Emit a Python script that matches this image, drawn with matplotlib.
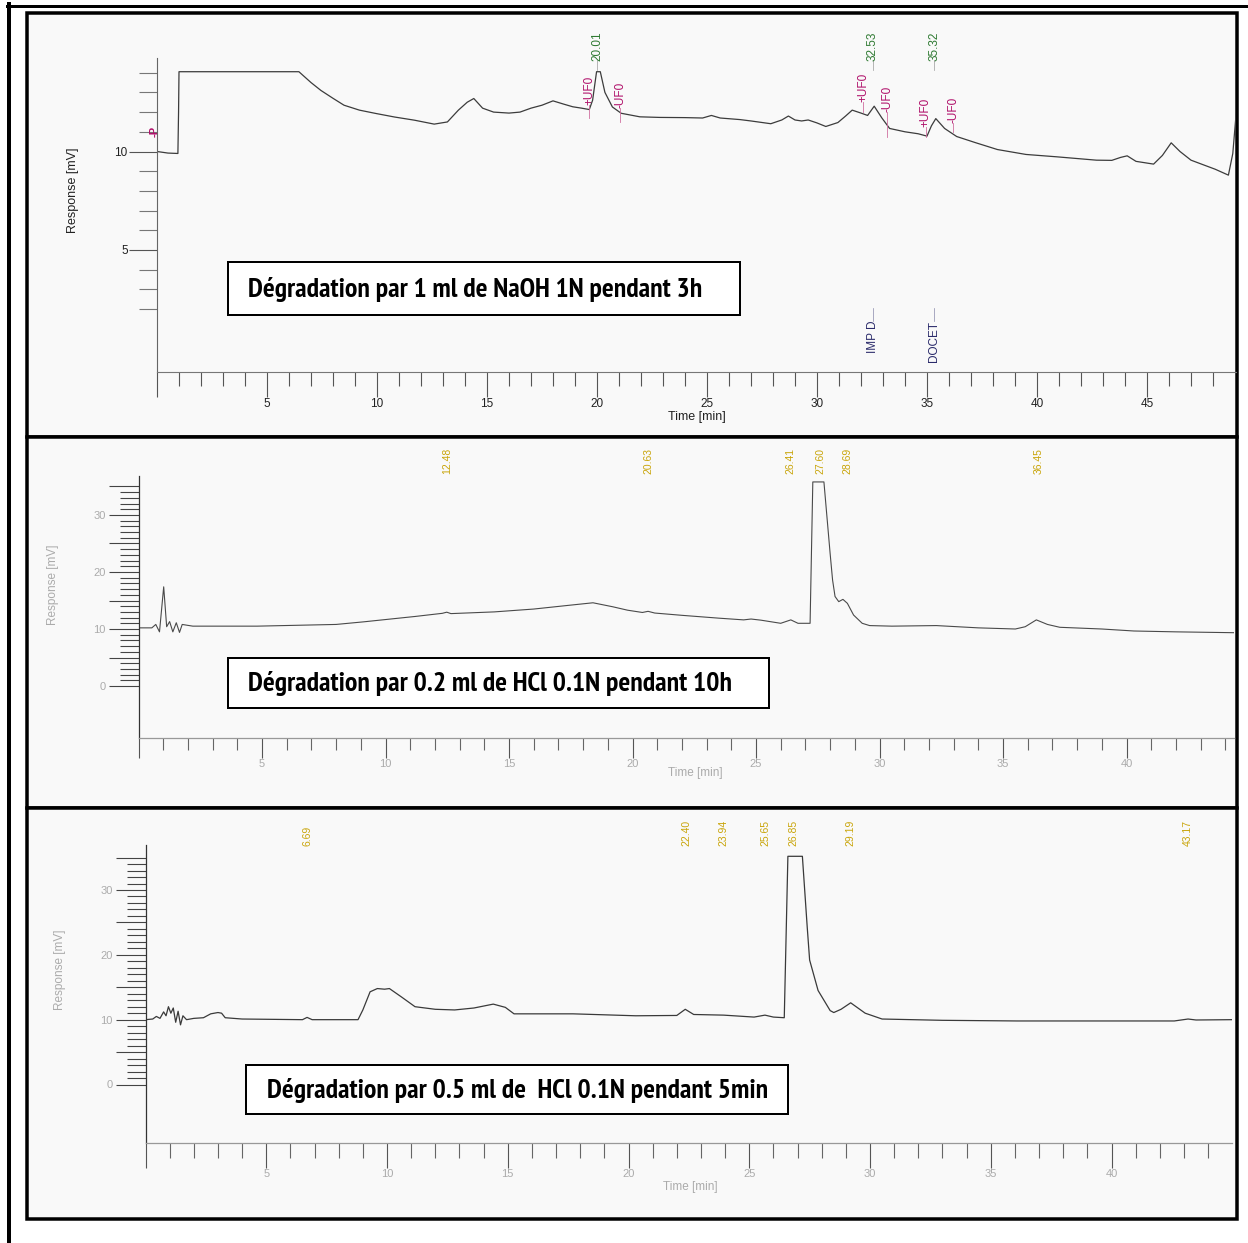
import matplotlib
matplotlib.use('Agg')
import matplotlib.pyplot as plt
from matplotlib.patches import Rectangle
from matplotlib.lines import Line2D
from matplotlib.ticker import FixedLocator, FuncFormatter
from matplotlib import font_manager
from matplotlib.font_manager import FontProperties

W, H = 1248, 1243

# --- chromatogram 1 : NaOH 1N, 3h  (time [min], response [mV]) ---
t_naoh = [0.0, 0.5, 0.95, 0.98, 1.0, 6.45, 7.0, 7.45, 8.0, 8.5,
          9.2, 9.95, 10.8, 11.7, 12.6, 13.2, 13.7, 14.1, 14.4, 14.8,
          15.3, 16.0, 16.5, 17.0, 17.5, 18.0, 18.5, 18.9, 19.3, 19.65,
          19.8, 19.98, 20.15, 20.36, 20.7, 21.1, 21.95, 22.85, 24.0, 24.8,
          25.2, 25.6, 26.5, 27.0, 27.9, 28.4, 28.7, 29.0, 29.3, 29.6,
          30.0, 30.4, 30.95, 31.3, 31.6, 32.0, 32.3, 32.6, 32.95, 33.3,
          34.0, 34.6, 35.0, 35.2, 35.4, 35.8, 36.35, 37.2, 38.2, 39.5,
          40.9, 42.7, 43.4, 43.8, 44.1, 44.5, 45.3, 45.7, 46.1, 46.5,
          47.0, 47.5, 48.1, 48.7, 48.9, 49.05]
r_naoh = [10.0, 9.92, 9.9, 12.0, 14.05, 14.05, 13.5, 13.1, 12.7, 12.35,
          12.1, 11.93, 11.75, 11.59, 11.39, 11.5, 12.1, 12.5, 12.69, 12.2,
          12.0, 11.95, 12.0, 12.2, 12.35, 12.57, 12.4, 12.27, 12.2, 12.13,
          12.6, 14.05, 14.05, 13.0, 12.26, 11.94, 11.76, 11.73, 11.72, 11.7,
          11.83, 11.7, 11.62, 11.55, 11.41, 11.6, 11.8, 11.6, 11.55, 11.6,
          11.45, 11.27, 11.47, 11.8, 12.1, 11.95, 11.83, 12.3, 11.7, 11.17,
          11.0, 10.9, 10.78, 11.3, 11.67, 11.17, 10.76, 10.45, 10.1, 9.85,
          9.73, 9.56, 9.55, 9.7, 9.78, 9.5, 9.36, 9.8, 10.44, 10.0,
          9.56, 9.35, 9.1, 8.8, 9.9, 11.9]
naoh_peaks = [20.01, 32.53, 35.32]
naoh_uf_times = [19.64, 21.05, 32.1, 33.2, 34.95, 36.2]
naoh_uf_text = ['+UF0', '-UF0', '+UF0', '-UF0', '+UF0', '-UF0']
naoh_names = ['IMP D', 'DOCET']
naoh_name_times = [32.53, 35.32]

# --- chromatogram 2 : HCl 0.1N 0.2 ml, 10h ---
t_hcl10 = [0.0, 0.54, 0.7, 0.85, 1.02, 1.14, 1.26, 1.39, 1.53, 1.66,
           1.77, 1.98, 2.2, 4.8, 8.0, 9.1, 11.2, 12.3, 12.48, 12.65,
           14.4, 16.0, 17.3, 18.4, 19.2, 19.8, 20.4, 20.63, 20.9, 22.0,
           23.5, 24.5, 24.8, 25.2, 26.0, 26.41, 26.7, 27.19, 27.3, 27.75,
           28.0, 28.1, 28.2, 28.35, 28.52, 28.7, 28.95, 29.3, 29.6, 30.5,
           32.3, 34.0, 35.5, 35.9, 36.35, 36.8, 37.3, 39.0, 40.3, 42.0,
           44.35]
r_hcl10 = [10.2, 10.2, 10.8, 9.5, 17.4, 10.4, 11.3, 9.5, 11.1, 9.4,
           10.8, 10.65, 10.5, 10.5, 10.8, 11.25, 12.2, 12.75, 12.95, 12.7,
           13.0, 13.5, 14.1, 14.6, 13.9, 13.3, 12.9, 13.1, 12.8, 12.4,
           11.9, 11.6, 11.75, 11.55, 11.0, 11.6, 11.0, 11.0, 35.8, 35.8,
           23.3, 18.6, 15.7, 14.8, 15.2, 14.5, 12.45, 11.0, 10.6, 10.5,
           10.6, 10.2, 10.0, 10.4, 11.6, 10.8, 10.3, 10.0, 9.65, 9.5,
           9.35]
hcl10_peaks = [12.48, 20.63, 26.41, 27.60, 28.69, 36.45]

# --- chromatogram 3 : HCl 0.1N 0.5 ml, 5min ---
t_hcl5 = [0.0, 0.3, 0.45, 0.6, 0.75, 0.85, 0.95, 1.05, 1.15, 1.25,
          1.35, 1.45, 1.55, 1.7, 2.0, 2.4, 2.7, 3.0, 3.15, 3.3,
          4.0, 6.5, 6.69, 6.9, 8.8, 9.0, 9.3, 9.6, 9.9, 10.1,
          10.6, 11.16, 12.0, 12.8, 13.6, 14.4, 14.9, 15.26, 17.7, 20.3,
          22.0, 22.35, 22.7, 23.94, 25.2, 25.65, 26.0, 26.45, 26.6, 27.2,
          27.4, 27.5, 27.85, 28.35, 28.5, 28.8, 29.2, 29.8, 30.5, 33.0,
          36.1, 42.6, 43.17, 43.5, 45.0]
r_hcl5 = [10.0, 10.1, 10.5, 10.2, 11.2, 10.6, 12.0, 11.0, 11.8, 9.6,
          11.3, 9.2, 10.6, 10.0, 10.2, 10.3, 10.9, 11.1, 11.0, 10.3,
          10.1, 10.0, 10.35, 10.0, 10.0, 11.5, 14.3, 14.8, 14.7, 14.8,
          13.5, 12.0, 11.6, 11.5, 11.8, 12.4, 11.9, 10.9, 10.9, 10.6,
          10.65, 11.6, 10.8, 10.7, 10.4, 10.7, 10.4, 10.3, 35.2, 35.2,
          24.3, 19.2, 14.5, 11.4, 11.1, 11.6, 12.6, 11.0, 10.1, 9.9,
          9.8, 9.8, 10.1, 9.95, 10.0]
hcl5_peaks = [6.69, 22.40, 23.94, 25.65, 26.85, 29.19, 43.17]

titles = ['Dégradation par 1 ml de NaOH 1N pendant 3h',
          'Dégradation par 0.2 ml de HCl 0.1N pendant 10h',
          'Dégradation par 0.5 ml de  HCl 0.1N pendant 5min']

plt.rcParams['font.family'] = ['Liberation Sans', 'DejaVu Sans']

# caption font: a bold narrow/condensed face if one is installed
narrow = None
for f in font_manager.fontManager.ttflist:
    fn = f.fname.lower()
    if ('narrow' in fn or 'condensed' in fn) and 'bold' in fn and 'oblique' not in fn \
            and 'italic' not in fn and 'mono' not in fn and 'serif' not in fn:
        narrow = f.fname
        if 'narrow' in fn:
            break
if narrow:
    box_prop = FontProperties(fname=narrow, size=20)
else:
    box_prop = FontProperties(family='Liberation Sans', weight='bold', size=15.5)

PT = 72 / 100  # pixels -> points

fig = plt.figure(figsize=(W / 100, H / 100), dpi=100)
fig.patch.set_facecolor('white')


def fx(px):
    return px / W


def fy(py):
    return 1 - py / H


# outer frame
fig.add_artist(Line2D([fx(7), fx(1248)], [fy(5.5), fy(5.5)], color='black', lw=3 * PT))
fig.add_artist(Line2D([fx(9), fx(9)], [fy(4), fy(1243)], color='black', lw=4 * PT))

# panel boxes
for top, bot in [(12.5, 437), (437, 808), (808, 1219)]:
    fig.add_artist(Rectangle((fx(26.5), fy(bot)), fx(1236.5) - fx(26.5), fy(top) - fy(bot),
                             transform=fig.transFigure, fc='#f9f9f9', ec='black',
                             lw=3.5 * PT, zorder=0))


def make_axes(left, top, right, bottom, xmax, ylo, yhi):
    ax = fig.add_axes([fx(left), fy(bottom), fx(right) - fx(left), fy(top) - fy(bottom)])
    ax.set_xlim(0, xmax)
    ax.set_ylim(ylo, yhi)
    ax.patch.set_alpha(0)
    ax.set_zorder(1)
    ax.spines['top'].set_visible(False)
    ax.spines['right'].set_visible(False)
    return ax


def afrac(py, top, bottom):
    return (bottom - py) / (bottom - top)


def no_zero(v, p):
    return '' if v == 0 else f'{v:g}'


def tens_only(v, p):
    return f'{v:g}' if v % 10 == 0 else ''


# ---------------- panel 1 ----------------
P1 = (157, 58, 1236, 372)
ax1 = make_axes(*P1, xmax=(1236 - 157) / 22.0,
                ylo=10 - (372 - 151.5) / 19.7, yhi=10 + (151.5 - 58) / 19.7)
ax1.plot(t_naoh, r_naoh, color='#3c3c3c', lw=0.9)
ax1.xaxis.set_major_locator(FixedLocator(range(0, 50, 5)))
ax1.xaxis.set_minor_locator(FixedLocator(range(0, 49)))
ax1.xaxis.set_major_formatter(FuncFormatter(no_zero))
ax1.yaxis.set_major_locator(FixedLocator([5, 10]))
ax1.yaxis.set_minor_locator(FixedLocator(range(2, 15)))
ax1.tick_params(axis='x', which='major', length=25 * PT, width=0.8, color='#555555',
                labelsize=8.5, pad=1, labelcolor='#222222')
ax1.tick_params(axis='x', which='minor', length=14 * PT, width=0.8, color='#555555')
ax1.tick_params(axis='y', which='major', length=28 * PT, width=0.8, color='#555555',
                labelsize=8.5, pad=1, labelcolor='#222222')
ax1.tick_params(axis='y', which='minor', length=18 * PT, width=0.8, color='#777777')
ax1.spines['left'].set_color('#666666')
ax1.spines['bottom'].set_color('#777777')
ax1.spines['left'].set_linewidth(0.8)
ax1.spines['bottom'].set_linewidth(0.8)

xt1 = ax1.get_xaxis_transform()
for t in naoh_peaks:
    ax1.text(t, afrac(61, 58, 372), f'{t:.2f}', transform=xt1, rotation=90, ha='center',
             va='bottom', fontsize=8.5, color='#2f7a32', clip_on=False)
    ax1.plot([t, t], [afrac(60, 58, 372), afrac(70, 58, 372)], transform=xt1,
             color='#999999', lw=0.5, clip_on=False)
uf_bottoms = [105, 108, 102, 112, 127, 123]
uf_ends = [118, 122, 112, 137, 137, 132]
for t, s, b, e in zip(naoh_uf_times, naoh_uf_text, uf_bottoms, uf_ends):
    ax1.text(t, afrac(b, 58, 372), s, transform=xt1, rotation=90, ha='center',
             va='bottom', fontsize=8.5, color='#b0106a', clip_on=False)
    ax1.plot([t, t], [afrac(b, 58, 372), afrac(e, 58, 372)], transform=xt1,
             color='#d070a0', lw=0.6)
for t, s, b in zip(naoh_name_times, naoh_names, [353, 362]):
    ax1.text(t, afrac(b, 58, 372), s, transform=xt1, rotation=90, ha='center',
             va='bottom', fontsize=8.5, color='#2a2a6a', clip_on=False)
    ax1.plot([t, t], [afrac(308, 58, 372), afrac(321, 58, 372)], transform=xt1,
             color='#8888aa', lw=0.5)
fig.text(fx(155), fy(131), '-P', rotation=90, ha='center', va='center', fontsize=8,
         color='#b0106a', fontweight='bold')
fig.text(fx(73), fy(190), 'Response [mV]', rotation=90, ha='center', va='center',
         fontsize=9, color='#222222')
fig.text(fx(697), fy(417), 'Time [min]', ha='center', va='center', fontsize=9,
         color='#222222')

# ---------------- panels 2 and 3 ----------------
gold = '#c9a50a'
grey_txt = '#ababab'


def style_grey_axes(ax, xmax, maj_x, min_x):
    ax.xaxis.set_major_locator(FixedLocator(range(0, int(xmax) + 1, 5)))
    ax.xaxis.set_minor_locator(FixedLocator(range(0, int(xmax) + 1)))
    ax.xaxis.set_major_formatter(FuncFormatter(no_zero))
    ax.yaxis.set_major_locator(FixedLocator(range(0, 36, 5)))
    ax.yaxis.set_minor_locator(FixedLocator(range(0, 36)))
    ax.yaxis.set_major_formatter(FuncFormatter(tens_only))
    ax.tick_params(axis='x', which='major', length=maj_x * PT, width=0.8, color='#555555',
                   labelsize=8, pad=1, labelcolor=grey_txt)
    ax.tick_params(axis='x', which='minor', length=min_x * PT, width=0.8, color='#666666')
    ax.tick_params(axis='y', which='major', length=30 * PT, width=0.8, color='#444444',
                   labelsize=8, pad=2, labelcolor=grey_txt)
    ax.tick_params(axis='y', which='minor', length=19 * PT, width=0.8, color='#444444')
    ax.spines['left'].set_color('#333333')
    ax.spines['left'].set_linewidth(0.9)
    ax.spines['bottom'].set_color('#999999')
    ax.spines['bottom'].set_linewidth(0.9)


P2 = (138.5, 476, 1234, 738)
xmax2 = (1234 - 138.5) / 24.7
ax2 = make_axes(*P2, xmax=xmax2, ylo=-(738 - 686) / 5.7, yhi=(686 - 476) / 5.7)
ax2.plot(t_hcl10, r_hcl10, color='#4a4a4a', lw=0.8)
style_grey_axes(ax2, xmax2, 20, 12)
xt2 = ax2.get_xaxis_transform()
for t in hcl10_peaks:
    ax2.text(t, afrac(474, 476, 738), f'{t:.2f}', transform=xt2, rotation=90, ha='center',
             va='bottom', fontsize=7.5, color=gold, clip_on=False)
fig.text(fx(53), fy(585), 'Response [mV]', rotation=90, ha='center', va='center',
         fontsize=8.5, color=grey_txt)
fig.text(fx(695), fy(773), 'Time [min]', ha='center', va='center', fontsize=8.5,
         color=grey_txt)

P3 = (145.5, 845, 1232, 1143)
xmax3 = (1232 - 145.5) / 24.15
ax3 = make_axes(*P3, xmax=xmax3, ylo=-(1143 - 1084.5) / 6.483, yhi=(1084.5 - 845) / 6.483)
ax3.plot(t_hcl5, r_hcl5, color='#3a3a3a', lw=0.9)
style_grey_axes(ax3, 44.9, 25, 15)
xt3 = ax3.get_xaxis_transform()
for t in hcl5_peaks:
    ax3.text(t, afrac(846, 845, 1143), f'{t:.2f}', transform=xt3, rotation=90, ha='center',
             va='bottom', fontsize=7.5, color=gold, clip_on=False)
fig.text(fx(60), fy(970), 'Response [mV]', rotation=90, ha='center', va='center',
         fontsize=8.5, color=grey_txt)
fig.text(fx(690), fy(1187), 'Time [min]', ha='center', va='center', fontsize=8.5,
         color=grey_txt)

# ---------------- caption boxes ----------------
boxes = [(228, 262, 740, 315), (228, 658, 769, 708), (246, 1065, 788, 1114)]
text_left = [248, 248, 267]
for (x0, y0, x1, y1), xl, txt in zip(boxes, text_left, titles):
    fig.add_artist(Rectangle((fx(x0), fy(y1)), fx(x1) - fx(x0), fy(y0) - fy(y1),
                             transform=fig.transFigure, fc='white', ec='black',
                             lw=2 * PT, zorder=3))
    fig.text(fx(xl), fy((y0 + y1) / 2 + 1), txt, ha='left', va='center',
             fontproperties=box_prop, color='black', zorder=4)

fig.savefig('out.png', dpi=100)
